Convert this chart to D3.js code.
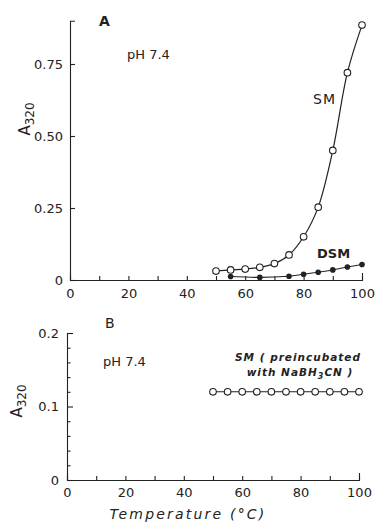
<!DOCTYPE html>
<html>
<head>
<meta charset="utf-8">
<script src="https://cdn.jsdelivr.net/npm/d3@7"></script>
<style>
  body { margin: 0; background: #fff; }
  svg { display: block; }
  text { font-family: "DejaVu Sans", sans-serif; fill: #222; }
</style>
</head>
<body>
<div id="chart"></div>
<script>
// Panel A: absorbance at 320 nm vs temperature
const smTemp = [50, 55, 60, 65, 70, 75, 80, 85, 90, 95, 100];
const smA320 = [0.031, 0.035, 0.038, 0.044, 0.057, 0.087, 0.150, 0.253, 0.45, 0.72, 0.885];
const dsmTemp = [55, 65, 75, 80, 85, 90, 95, 100];
const dsmA320 = [0.012, 0.009, 0.013, 0.020, 0.027, 0.035, 0.045, 0.054];

// Panel B: SM preincubated with NaBH3CN
const preTemp = [50, 55, 60, 65, 70, 75, 80, 85, 90, 95, 100];
const preA320 = [0.12, 0.12, 0.12, 0.12, 0.12, 0.12, 0.12, 0.12, 0.12, 0.12, 0.12];

const xTickLabels = [0, 20, 40, 60, 80, 100];
const xMinorTicks = [10, 30, 50, 70, 90];
const yTicksA = [0, 0.25, 0.5, 0.75];
const yTicksB = [0, 0.1, 0.2];
const yMinorB = [0.02, 0.04, 0.06, 0.08, 0.12, 0.14, 0.16, 0.18];

const width = 375;
const height = 523;
const ink = '#222';

const svg = d3.select('#chart').append('svg')
  .attr('width', width)
  .attr('height', height);

// ---------- Panel A ----------
const xA = d3.scaleLinear().domain([0, 100]).range([70, 362]);
const yA = d3.scaleLinear().domain([0, 0.9]).range([280, 20.8]);

const fmtA = d => d === 0 ? '0' : d3.format('.2f')(d);

svg.append('g')
  .attr('transform', `translate(${xA(0)},0)`)
  .call(d3.axisLeft(yA).tickValues(yTicksA).tickFormat(fmtA)
    .tickSizeInner(-5).tickSizeOuter(-5).tickPadding(7));

svg.append('g')
  .attr('transform', `translate(0,${yA(0)})`)
  .call(d3.axisBottom(xA).tickValues(xTickLabels)
    .tickSizeInner(-4).tickSizeOuter(-7).tickPadding(9));

svg.append('g')
  .attr('transform', `translate(0,${yA(0)})`)
  .call(d3.axisBottom(xA).tickValues(xMinorTicks).tickFormat('')
    .tickSizeInner(-4).tickSizeOuter(0))
  .call(g => g.select('.domain').remove());

const smLine = d3.line()
  .x((d, i) => xA(smTemp[i]))
  .y(d => yA(d))
  .curve(d3.curveCatmullRom.alpha(0.5));

svg.append('path')
  .datum(smA320)
  .attr('d', smLine)
  .attr('fill', 'none')
  .attr('stroke', ink)
  .attr('stroke-width', 1.2);

const dsmLine = d3.line()
  .x((d, i) => xA(dsmTemp[i]))
  .y(d => yA(d))
  .curve(d3.curveMonotoneX);

svg.append('path')
  .datum(dsmA320)
  .attr('d', dsmLine)
  .attr('fill', 'none')
  .attr('stroke', ink)
  .attr('stroke-width', 1.1);

svg.append('g')
  .selectAll('circle')
  .data(smA320)
  .join('circle')
  .attr('cx', (d, i) => xA(smTemp[i]))
  .attr('cy', d => yA(d))
  .attr('r', 3.3)
  .attr('fill', '#fff')
  .attr('stroke', ink)
  .attr('stroke-width', 1.1);

svg.append('g')
  .selectAll('circle')
  .data(dsmA320)
  .join('circle')
  .attr('cx', (d, i) => xA(dsmTemp[i]))
  .attr('cy', d => yA(d))
  .attr('r', 2.8)
  .attr('fill', ink);

svg.append('text').attr('x', 99).attr('y', 26)
  .attr('font-size', 14).attr('font-weight', 'bold').text('A');
svg.append('text').attr('x', 127).attr('y', 59)
  .attr('font-size', 13).text('pH 7.4');
svg.append('text').attr('x', 313).attr('y', 104)
  .attr('font-size', 14).attr('letter-spacing', 1).text('SM');
svg.append('text').attr('x', 317).attr('y', 258)
  .attr('font-size', 13).attr('font-weight', 'bold').text('DSM');

const yLabelA = svg.append('text')
  .attr('transform', 'translate(30,119) rotate(-90)')
  .attr('text-anchor', 'middle')
  .attr('font-size', 15);
yLabelA.append('tspan').text('A');
yLabelA.append('tspan').attr('font-size', 12).attr('dy', 4).text('320');

// ---------- Panel B ----------
const xB = d3.scaleLinear().domain([0, 100]).range([67, 359]);
const yB = d3.scaleLinear().domain([0, 0.2]).range([480, 333]);

svg.append('g')
  .attr('transform', `translate(${xB(0)},0)`)
  .call(d3.axisLeft(yB).tickValues(yTicksB).tickFormat(d => d === 0 ? '0' : d3.format('.1f')(d))
    .tickSizeInner(-6).tickSizeOuter(-6).tickPadding(8));

svg.append('g')
  .attr('transform', `translate(${xB(0)},0)`)
  .call(d3.axisLeft(yB).tickValues(yMinorB).tickFormat('')
    .tickSizeInner(-3.5).tickSizeOuter(0))
  .call(g => g.select('.domain').remove());

svg.append('g')
  .attr('transform', `translate(0,${yB(0)})`)
  .call(d3.axisBottom(xB).tickValues(xTickLabels)
    .tickSizeInner(-4).tickSizeOuter(-7).tickPadding(8));

svg.append('g')
  .attr('transform', `translate(0,${yB(0)})`)
  .call(d3.axisBottom(xB).tickValues(xMinorTicks).tickFormat('')
    .tickSizeInner(-4).tickSizeOuter(0))
  .call(g => g.select('.domain').remove());

const preLine = d3.line()
  .x((d, i) => xB(preTemp[i]))
  .y(d => yB(d));

svg.append('path')
  .datum(preA320)
  .attr('d', preLine)
  .attr('fill', 'none')
  .attr('stroke', ink)
  .attr('stroke-width', 1.1);

svg.append('g')
  .selectAll('circle')
  .data(preA320)
  .join('circle')
  .attr('cx', (d, i) => xB(preTemp[i]))
  .attr('cy', d => yB(d))
  .attr('r', 3.3)
  .attr('fill', '#fff')
  .attr('stroke', ink)
  .attr('stroke-width', 1.1);

svg.append('text').attr('x', 105).attr('y', 328)
  .attr('font-size', 14).text('B');
svg.append('text').attr('x', 103).attr('y', 366)
  .attr('font-size', 13).text('pH 7.4');

const note1 = svg.append('text').attr('x', 298).attr('y', 361)
  .attr('text-anchor', 'middle').attr('font-size', 10.5)
  .attr('font-style', 'italic').attr('font-weight', 'bold')
  .attr('letter-spacing', 1);
note1.append('tspan').text('SM ( preincubated');

const note2 = svg.append('text').attr('x', 300).attr('y', 376)
  .attr('text-anchor', 'middle').attr('font-size', 10.5)
  .attr('font-style', 'italic').attr('font-weight', 'bold')
  .attr('letter-spacing', 1);
note2.append('tspan').text('with NaBH');
note2.append('tspan').attr('font-size', 8).attr('dy', 3).text('3');
note2.append('tspan').attr('dy', -3).text('CN )');

const yLabelB = svg.append('text')
  .attr('transform', 'translate(22,401) rotate(-90)')
  .attr('text-anchor', 'middle')
  .attr('font-size', 15);
yLabelB.append('tspan').text('A');
yLabelB.append('tspan').attr('font-size', 12).attr('dy', 4).text('320');

svg.append('text').attr('x', 188).attr('y', 519)
  .attr('text-anchor', 'middle').attr('font-size', 14)
  .attr('font-style', 'italic').attr('letter-spacing', 2.2)
  .text('Temperature (°C)');

// tick label and axis styling
svg.selectAll('.tick text')
  .style('font-size', '13px')
  .style('font-family', '"DejaVu Sans", sans-serif')
  .attr('fill', ink);
svg.selectAll('.domain, .tick line').attr('stroke', ink).attr('stroke-width', 1.1);
</script>
</body>
</html>
